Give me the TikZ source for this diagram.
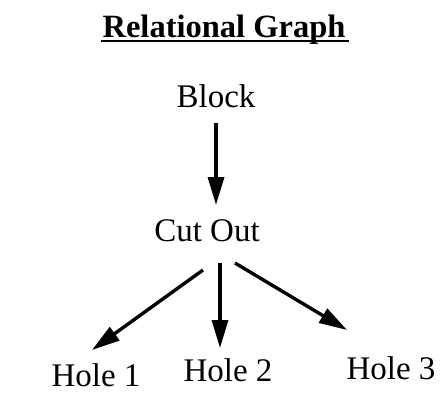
\documentclass[tikz,border=0pt]{standalone}
\usepackage{fontspec}
\setmainfont{Liberation Serif}
\usetikzlibrary{arrows.meta}
\begin{document}
\begin{tikzpicture}[x=1pt,y=1pt,
  lbl/.style={anchor=base,inner sep=0pt,font=\fontsize{33}{39}\selectfont},
  rel/.style={-{Triangle[length=28pt,width=16pt]},line width=3.4pt}]
  \useasboundingbox (0,0) rectangle (441,392);
  % Titulo subrayado
  \node[lbl,font=\fontsize{32.5}{38}\selectfont\bfseries] (title) at (224,355) {Relational Graph};
  \draw[line width=2.8pt] ([shift={(-1pt,-4pt)}]title.base west) -- ([shift={(3pt,-4pt)}]title.base east);
  % Nodos del grafo
  \node[lbl] (block)  at (216,285) {Block};
  \node[lbl] (cutout) at (207,151) {Cut Out};
  \node[lbl] (hole1)  at (96,6)    {Hole 1};
  \node[lbl] (hole2)  at (228,11)  {Hole 2};
  \node[lbl] (hole3)  at (391,13)  {Hole 3};
  % Relaciones
  \draw[rel] ([yshift=-16pt]block.base) -- ([shift={(9pt,36pt)}]cutout.base);
  \draw[rel] ([shift={(-4pt,-29pt)}]cutout.base) -- ([shift={(-4pt,36pt)}]hole1.base);
  \draw[rel] ([shift={(13pt,-22pt)}]cutout.base) -- ([shift={(-8pt,33pt)}]hole2.base);
  \draw[rel] ([shift={(28pt,-22pt)}]cutout.base) -- ([shift={(-44pt,49pt)}]hole3.base);
\end{tikzpicture}
\end{document}
